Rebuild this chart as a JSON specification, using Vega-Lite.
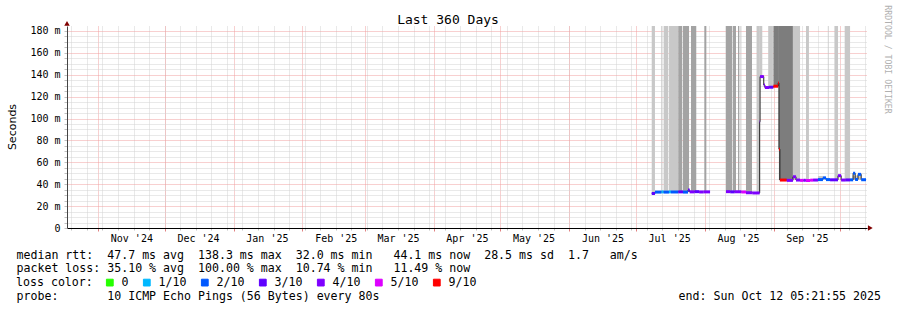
{
  "$schema": "https://vega.github.io/schema/vega-lite/v6.json",
  "width": 800,
  "height": 202,
  "autosize": {"type": "none"},
  "padding": {"left": 67, "top": 26, "right": 30, "bottom": 82},
  "background": "#ffffff",
  "config": {
    "view": {"stroke": null},
    "font": "DejaVu Sans Mono",
    "axis": {"labelFont": "DejaVu Sans Mono", "titleFont": "DejaVu Sans Mono", "titleFontWeight": "normal", "labelColor": "#000000", "titleColor": "#000000"}
  },
  "title": {"text": "Last 360 Days", "font": "DejaVu Sans Mono", "fontSize": 13, "fontWeight": "normal", "color": "#000000", "anchor": "middle", "dx": -19, "dy": 32, "offset": 0, "baseline": "alphabetic"},
  "datasets": {
    "smoke": [
      {"start": "2025-07-08T04:00Z", "end": "2025-07-09T15:00Z", "low": 32, "high": 200, "shade": "light"},
      {"start": "2025-07-12T08:00Z", "end": "2025-07-12T16:00Z", "low": 33, "high": 200, "shade": "light"},
      {"start": "2025-07-13T13:00Z", "end": "2025-07-15T15:00Z", "low": 33, "high": 200, "shade": "light"},
      {"start": "2025-07-15T23:00Z", "end": "2025-07-20T03:00Z", "low": 33, "high": 200, "shade": "light"},
      {"start": "2025-07-20T03:00Z", "end": "2025-07-21T22:00Z", "low": 33, "high": 200, "shade": "mid"},
      {"start": "2025-07-22T06:00Z", "end": "2025-07-24T23:00Z", "low": 33, "high": 200, "shade": "mid"},
      {"start": "2025-07-25T20:00Z", "end": "2025-07-28T05:00Z", "low": 33, "high": 200, "shade": "mid"},
      {"start": "2025-07-31T20:00Z", "end": "2025-08-01T18:00Z", "low": 33, "high": 200, "shade": "mid"},
      {"start": "2025-08-10T14:00Z", "end": "2025-08-13T07:00Z", "low": 33, "high": 200, "shade": "mid"},
      {"start": "2025-08-13T14:00Z", "end": "2025-08-15T02:00Z", "low": 33, "high": 200, "shade": "mid"},
      {"start": "2025-08-16T00:00Z", "end": "2025-08-16T14:00Z", "low": 33, "high": 200, "shade": "mid"},
      {"start": "2025-08-17T05:00Z", "end": "2025-08-17T12:00Z", "low": 33, "high": 200, "shade": "light"},
      {"start": "2025-08-19T14:00Z", "end": "2025-08-22T07:00Z", "low": 32, "high": 200, "shade": "mid"},
      {"start": "2025-08-24T12:00Z", "end": "2025-08-25T20:00Z", "low": 32, "high": 200, "shade": "light"},
      {"start": "2025-08-25T20:00Z", "end": "2025-08-26T22:00Z", "low": 138, "high": 200, "shade": "light"},
      {"start": "2025-08-29T14:00Z", "end": "2025-08-31T17:00Z", "low": 128.5, "high": 200, "shade": "light"},
      {"start": "2025-08-31T22:00Z", "end": "2025-09-03T10:00Z", "low": 130, "high": 200, "shade": "dark"},
      {"start": "2025-09-03T10:00Z", "end": "2025-09-09T17:00Z", "low": 43.8, "high": 200, "shade": "dark"},
      {"start": "2025-09-09T17:00Z", "end": "2025-09-12T22:00Z", "low": 43.8, "high": 200, "shade": "light"},
      {"start": "2025-09-15T14:00Z", "end": "2025-09-16T22:00Z", "low": 43.5, "high": 200, "shade": "light"},
      {"start": "2025-09-21T00:00Z", "end": "2025-09-23T05:00Z", "low": 44.2, "high": 47.5, "shade": "light"},
      {"start": "2025-09-25T10:00Z", "end": "2025-09-25T19:00Z", "low": 44, "high": 200, "shade": "light"},
      {"start": "2025-09-28T12:00Z", "end": "2025-09-30T00:00Z", "low": 44, "high": 200, "shade": "light"},
      {"start": "2025-10-03T00:00Z", "end": "2025-10-05T10:00Z", "low": 43.9, "high": 200, "shade": "light"},
      {"start": "2025-10-06T12:00Z", "end": "2025-10-10T12:00Z", "low": 44, "high": 48, "shade": "light"}
    ],
    "median": [
      {"start": "2025-07-08T04:00Z", "end": "2025-07-09T15:00Z", "median": 31.5, "loss": "3/10", "run": "A"},
      {"start": "2025-07-09T15:00Z", "end": "2025-07-12T14:00Z", "median": 32.8, "loss": "2/10", "run": "A"},
      {"start": "2025-07-12T14:00Z", "end": "2025-07-13T12:00Z", "median": 33.0, "loss": "1/10", "run": "A"},
      {"start": "2025-07-13T12:00Z", "end": "2025-07-15T22:00Z", "median": 32.8, "loss": "2/10", "run": "A"},
      {"start": "2025-07-15T22:00Z", "end": "2025-07-16T19:00Z", "median": 33.0, "loss": "1/10", "run": "A"},
      {"start": "2025-07-16T19:00Z", "end": "2025-07-20T03:00Z", "median": 32.9, "loss": "2/10", "run": "A"},
      {"start": "2025-07-20T03:00Z", "end": "2025-07-22T06:00Z", "median": 33.0, "loss": "3/10", "run": "A"},
      {"start": "2025-07-22T06:00Z", "end": "2025-07-24T12:00Z", "median": 32.8, "loss": "2/10", "run": "A"},
      {"start": "2025-07-24T12:00Z", "end": "2025-07-25T06:00Z", "median": 34.6, "loss": "3/10", "run": "A"},
      {"start": "2025-07-25T06:00Z", "end": "2025-07-27T12:00Z", "median": 33.0, "loss": "4/10", "run": "A"},
      {"start": "2025-07-27T12:00Z", "end": "2025-07-29T12:00Z", "median": 33.2, "loss": "3/10", "run": "A"},
      {"start": "2025-07-29T12:00Z", "end": "2025-07-31T12:00Z", "median": 32.9, "loss": "4/10", "run": "A"},
      {"start": "2025-07-31T12:00Z", "end": "2025-08-03T10:00Z", "median": 33.0, "loss": "4/10", "run": "A"},
      {"start": "2025-08-10T14:00Z", "end": "2025-08-12T12:00Z", "median": 33.2, "loss": "4/10", "run": "B"},
      {"start": "2025-08-12T12:00Z", "end": "2025-08-14T12:00Z", "median": 33.0, "loss": "3/10", "run": "B"},
      {"start": "2025-08-14T12:00Z", "end": "2025-08-17T12:00Z", "median": 33.1, "loss": "4/10", "run": "B"},
      {"start": "2025-08-17T12:00Z", "end": "2025-08-19T14:00Z", "median": 32.9, "loss": "5/10", "run": "B"},
      {"start": "2025-08-19T14:00Z", "end": "2025-08-22T12:00Z", "median": 32.2, "loss": "4/10", "run": "B"},
      {"start": "2025-08-22T12:00Z", "end": "2025-08-25T18:00Z", "median": 32.0, "loss": "4/10", "run": "B"},
      {"start": "2025-08-25T18:00Z", "end": "2025-08-25T22:00Z", "median": 97.0, "loss": "4/10", "run": "B"},
      {"start": "2025-08-25T22:00Z", "end": "2025-08-27T14:00Z", "median": 138.3, "loss": "4/10", "run": "B"},
      {"start": "2025-08-27T14:00Z", "end": "2025-08-28T02:00Z", "median": 130.6, "loss": "4/10", "run": "B"},
      {"start": "2025-08-28T02:00Z", "end": "2025-08-30T00:00Z", "median": 128.3, "loss": "4/10", "run": "B"},
      {"start": "2025-08-30T00:00Z", "end": "2025-08-31T22:00Z", "median": 128.6, "loss": "3/10", "run": "B"},
      {"start": "2025-08-31T22:00Z", "end": "2025-09-03T02:00Z", "median": 129.5, "loss": "9/10", "run": "B"},
      {"start": "2025-09-03T02:00Z", "end": "2025-09-03T10:00Z", "median": 132.5, "loss": "9/10", "run": "B"},
      {"start": "2025-09-03T10:00Z", "end": "2025-09-03T20:00Z", "median": 72.0, "loss": "9/10", "run": "B"},
      {"start": "2025-09-03T20:00Z", "end": "2025-09-06T22:00Z", "median": 43.8, "loss": "9/10", "run": "B"},
      {"start": "2025-09-06T22:00Z", "end": "2025-09-09T17:00Z", "median": 43.5, "loss": "4/10", "run": "B"},
      {"start": "2025-09-09T17:00Z", "end": "2025-09-11T02:00Z", "median": 46.8, "loss": "4/10", "run": "B"},
      {"start": "2025-09-11T02:00Z", "end": "2025-09-12T22:00Z", "median": 43.8, "loss": "4/10", "run": "B"},
      {"start": "2025-09-12T22:00Z", "end": "2025-09-14T12:00Z", "median": 43.5, "loss": "5/10", "run": "B"},
      {"start": "2025-09-14T12:00Z", "end": "2025-09-15T12:00Z", "median": 43.6, "loss": "4/10", "run": "B"},
      {"start": "2025-09-15T12:00Z", "end": "2025-09-17T12:00Z", "median": 43.4, "loss": "5/10", "run": "B"},
      {"start": "2025-09-17T12:00Z", "end": "2025-09-18T19:00Z", "median": 43.7, "loss": "5/10", "run": "B"},
      {"start": "2025-09-18T19:00Z", "end": "2025-09-21T00:00Z", "median": 43.8, "loss": "4/10", "run": "B"},
      {"start": "2025-09-21T00:00Z", "end": "2025-09-23T05:00Z", "median": 44.2, "loss": "2/10", "run": "B"},
      {"start": "2025-09-23T05:00Z", "end": "2025-09-24T14:00Z", "median": 45.8, "loss": "2/10", "run": "B"},
      {"start": "2025-09-24T14:00Z", "end": "2025-09-26T10:00Z", "median": 44.2, "loss": "2/10", "run": "B"},
      {"start": "2025-09-26T10:00Z", "end": "2025-09-30T00:00Z", "median": 44.0, "loss": "3/10", "run": "B"},
      {"start": "2025-09-30T00:00Z", "end": "2025-10-01T10:00Z", "median": 47.8, "loss": "4/10", "run": "B"},
      {"start": "2025-10-01T10:00Z", "end": "2025-10-03T12:00Z", "median": 43.8, "loss": "4/10", "run": "B"},
      {"start": "2025-10-03T12:00Z", "end": "2025-10-05T10:00Z", "median": 43.9, "loss": "3/10", "run": "B"},
      {"start": "2025-10-05T10:00Z", "end": "2025-10-06T19:00Z", "median": 44.0, "loss": "2/10", "run": "B"},
      {"start": "2025-10-06T19:00Z", "end": "2025-10-07T17:00Z", "median": 50.0, "loss": "2/10", "run": "B"},
      {"start": "2025-10-07T17:00Z", "end": "2025-10-09T00:00Z", "median": 44.3, "loss": "2/10", "run": "B"},
      {"start": "2025-10-09T00:00Z", "end": "2025-10-10T10:00Z", "median": 49.0, "loss": "2/10", "run": "B"},
      {"start": "2025-10-10T10:00Z", "end": "2025-10-12T14:00Z", "median": 44.1, "loss": "2/10", "run": "B"}
    ]
  },
  "layer": [
    {
      "data": {"name": "smoke"},
      "mark": {"type": "rect", "clip": true},
      "encoding": {
        "x": {
          "field": "start", "type": "temporal",
          "scale": {"type": "utc", "domain": [{"year": 2024, "month": 10, "date": 18, "hours": 1, "utc": true}, {"year": 2025, "month": 10, "date": 13, "hours": 1, "utc": true}]},
          "axis": {
            "orient": "bottom",
            "tickCount": {"interval": "week", "step": 1},
            "grid": true, "gridColor": "#d2d2d2", "gridDash": [1, 1],
            "labels": false, "domain": false, "ticks": true, "tickColor": "#c0c0c0", "tickSize": 2,
            "title": "end:\u00a0Sun\u00a0Oct\u00a012\u00a005:21:55\u00a02025",
            "titleX": 813.5, "titleY": 71.4, "titleAlign": "right", "titleBaseline": "alphabetic", "titleFontSize": 11.6
          }
        },
        "x2": {"field": "end"},
        "y": {
          "field": "low", "type": "quantitative",
          "scale": {"domain": [0, 184.5], "nice": false},
          "axis": {
            "orient": "left",
            "values": [5, 10, 15, 25, 30, 35, 45, 50, 55, 65, 70, 75, 85, 90, 95, 105, 110, 115, 125, 130, 135, 145, 150, 155, 165, 170, 175],
            "grid": true, "gridColor": "#d2d2d2", "gridDash": [1, 1],
            "labels": false, "domain": false, "ticks": true, "tickColor": "#c0c0c0", "tickSize": 3, "title": null
          }
        },
        "y2": {"field": "high"},
        "fill": {"field": "shade", "type": "nominal", "scale": {"domain": ["light", "mid", "dark"], "range": ["#c8c8c8", "#a3a3a3", "#7d7d7d"]}, "legend": null}
      }
    },
    {
      "data": {"name": "median"},
      "mark": {"type": "line", "interpolate": "step-after", "color": "#202020", "strokeWidth": 1},
      "encoding": {
        "x": {
          "field": "start", "type": "temporal",
          "axis": {
            "orient": "bottom",
            "tickCount": {"interval": "month", "step": 1},
            "grid": true, "gridColor": "#f0a0a0", "gridDash": [1, 1],
            "labels": false, "domain": false, "ticks": true, "tickColor": "#e08080", "tickSize": 3,
            "title": "probe:\u00a0\u00a0\u00a0\u00a0\u00a0\u00a0\u00a010\u00a0ICMP\u00a0Echo\u00a0Pings\u00a0(56\u00a0Bytes)\u00a0every\u00a080s",
            "titleX": -51, "titleY": 71.4, "titleAlign": "left", "titleBaseline": "alphabetic", "titleFontSize": 11.6
          }
        },
        "y": {
          "field": "median", "type": "quantitative",
          "axis": {
            "orient": "left",
            "values": [0, 20, 40, 60, 80, 100, 120, 140, 160, 180],
            "grid": true, "gridColor": "#f0a0a0", "gridDash": [1, 1],
            "labelExpr": "datum.value == 0 ? '0' : datum.value + ' m'",
            "labelFontSize": 10, "labelPadding": 4, "ticks": true, "tickSize": 3, "tickColor": "#c0c0c0",
            "domain": true, "domainColor": "#444444",
            "title": "Seconds", "titleFont": "DejaVu Sans", "titleFontSize": 11, "titleAngle": -90,
            "titleX": -52, "titleY": 100.5, "titleAlign": "center", "titleBaseline": "alphabetic"
          }
        },
        "detail": {"field": "run"}
      }
    },
    {
      "data": {"name": "median"},
      "mark": {"type": "rule", "strokeWidth": 3},
      "encoding": {
        "x": {
          "field": "start", "type": "temporal",
          "axis": {
            "orient": "bottom",
            "values": [
              {"year": 2024, "month": 11, "date": 16, "utc": true},
              {"year": 2024, "month": 12, "date": 16, "utc": true},
              {"year": 2025, "month": 1, "date": 16, "utc": true},
              {"year": 2025, "month": 2, "date": 16, "utc": true},
              {"year": 2025, "month": 3, "date": 16, "utc": true},
              {"year": 2025, "month": 4, "date": 16, "utc": true},
              {"year": 2025, "month": 5, "date": 16, "utc": true},
              {"year": 2025, "month": 6, "date": 16, "utc": true},
              {"year": 2025, "month": 7, "date": 16, "utc": true},
              {"year": 2025, "month": 8, "date": 16, "utc": true},
              {"year": 2025, "month": 9, "date": 16, "utc": true}
            ],
            "labelExpr": "utcFormat(datum.value, \"%b '%y\")",
            "labelFontSize": 10, "labelPadding": 5, "labelBaseline": "top", "labelFlush": false, "labelOverlap": false,
            "ticks": false, "grid": false, "domain": true, "domainColor": "#000000",
            "title": [
              "median\u00a0rtt:\u00a0\u00a047.7\u00a0ms\u00a0avg\u00a0\u00a0138.3\u00a0ms\u00a0max\u00a0\u00a032.0\u00a0ms\u00a0min\u00a0\u00a0\u00a044.1\u00a0ms\u00a0now\u00a0\u00a028.5\u00a0ms\u00a0sd\u00a0\u00a01.7\u00a0\u00a0\u00a0am/s",
              "packet\u00a0loss:\u00a035.10\u00a0%\u00a0avg\u00a0\u00a0100.00\u00a0%\u00a0max\u00a0\u00a010.74\u00a0%\u00a0min\u00a0\u00a0\u00a011.49\u00a0%\u00a0now"
            ],
            "titleX": -51, "titleY": 30, "titleAlign": "left", "titleBaseline": "alphabetic", "titleFontSize": 11.6, "titleLineHeight": 13.8
          }
        },
        "x2": {"field": "end"},
        "y": {"field": "median", "type": "quantitative", "axis": null},
        "color": {
          "field": "loss", "type": "nominal",
          "scale": {"domain": ["0", "1/10", "2/10", "3/10", "4/10", "5/10", "9/10"], "range": ["#26ff00", "#00b8ff", "#0059ff", "#5e00ff", "#7e00ff", "#dd00ff", "#ff0000"]},
          "legend": {
            "title": "loss color:", "orient": "none", "legendX": -51, "legendY": 250.5, "direction": "horizontal", "columns": 7,
            "titleOrient": "left", "titlePadding": 11, "titleFont": "DejaVu Sans Mono", "titleFontSize": 11.6, "titleFontWeight": "normal", "titleColor": "#000000", "titleBaseline": "middle",
            "labelFont": "DejaVu Sans Mono", "labelFontSize": 11.6, "labelColor": "#000000", "labelOffset": 6, "columnPadding": 12,
            "symbolType": "square", "symbolSize": 46, "symbolStrokeWidth": 1, "padding": 0,
            "encode": {"symbols": {"update": {"fill": {"scale": "color", "field": "value"}, "stroke": {"value": "#000000"}, "fillOpacity": {"value": 1}, "strokeOpacity": {"value": 1}, "opacity": {"value": 1}}}}
          }
        }
      }
    },
    {
      "data": {"values": [{}]},
      "mark": {"type": "point", "shape": "triangle-up", "filled": true, "color": "#800000", "size": 30, "opacity": 1},
      "encoding": {
        "x": {"datum": {"year": 2024, "month": 10, "date": 18, "hours": 1, "utc": true}, "type": "temporal", "axis": null},
        "y": {
          "datum": 187, "type": "quantitative",
          "axis": {
            "orient": "right", "labels": false, "ticks": false, "domain": false, "grid": false,
            "title": "RRDTOOL / TOBI OETIKER", "titleAngle": 90, "titleX": 17, "titleY": 33, "titleAlign": "center", "titleBaseline": "alphabetic",
            "titleFont": "DejaVu Sans Mono", "titleFontSize": 8.2, "titleColor": "#b0b0b0", "titleFontWeight": "normal"
          }
        }
      }
    },
    {
      "data": {"values": [{}]},
      "mark": {"type": "point", "shape": "triangle-right", "filled": true, "color": "#800000", "size": 30, "opacity": 1},
      "encoding": {
        "x": {"datum": {"year": 2025, "month": 10, "date": 14, "hours": 13, "utc": true}, "type": "temporal", "axis": null},
        "y": {"datum": 0, "type": "quantitative", "axis": null}
      }
    }
  ],
  "resolve": {"axis": {"x": "independent", "y": "independent"}}
}
